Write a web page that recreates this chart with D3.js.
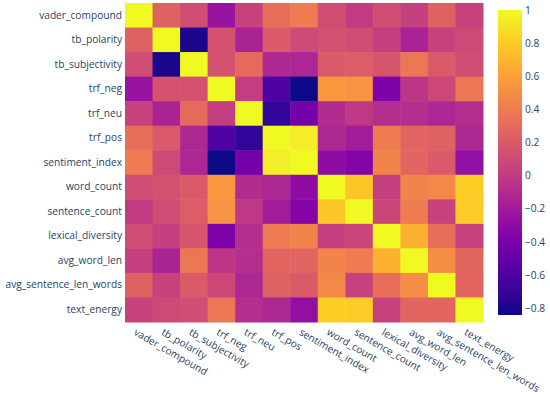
<!DOCTYPE html>
<html>
<head>
<meta charset="utf-8">
<script src="https://cdn.jsdelivr.net/npm/d3@7"></script>
<style>
  body { margin: 0; background: #fff; }
  text { font-family: "Open Sans", verdana, arial, sans-serif; fill: #2a3f5f; }
</style>
</head>
<body>
<script>
(function(){
  var width = 550;
  var height = 397;

  // features, same order on both axes
  var categories = ["vader_compound", "tb_polarity", "tb_subjectivity", "trf_neg", "trf_neu",
    "trf_pos", "sentiment_index", "word_count", "sentence_count", "lexical_diversity",
    "avg_word_len", "avg_sentence_len_words", "text_energy"];

  // correlation rows
  var rowVader     = [1, 0.25, 0.12, -0.25, 0.05, 0.33, 0.40, 0.12, 0.00, 0.12, 0.03, 0.25, 0.05];
  var rowTbPol     = [0.25, 1, -0.80, 0.15, -0.15, 0.20, 0.10, 0.14, 0.12, 0.03, -0.15, 0.05, 0.10];
  var rowTbSubj    = [0.12, -0.80, 1, 0.15, 0.30, -0.12, -0.13, 0.20, 0.22, 0.17, 0.38, 0.20, 0.12];
  var rowTrfNeg    = [-0.25, 0.15, 0.15, 1, 0.02, -0.60, -0.84, 0.55, 0.53, -0.38, -0.03, 0.08, 0.38];
  var rowTrfNeu    = [0.05, -0.15, 0.30, 0.02, 1, -0.72, -0.42, -0.10, -0.02, -0.08, -0.08, -0.13, -0.08];
  var rowTrfPos    = [0.33, 0.20, -0.12, -0.60, -0.72, 1, 0.95, -0.12, -0.20, 0.40, 0.27, 0.25, -0.12];
  var rowSentIdx   = [0.40, 0.10, -0.13, -0.84, -0.42, 0.95, 1, -0.30, -0.35, 0.45, 0.27, 0.20, -0.28];
  var rowWordCnt   = [0.12, 0.14, 0.20, 0.55, -0.10, -0.12, -0.30, 1, 0.78, 0.03, 0.45, 0.47, 0.82];
  var rowSentCnt   = [0.00, 0.12, 0.22, 0.53, -0.02, -0.20, -0.35, 0.78, 1, 0.07, 0.40, 0.05, 0.80];
  var rowLexDiv    = [0.12, 0.03, 0.17, -0.38, -0.08, 0.40, 0.45, 0.03, 0.07, 1, 0.68, 0.33, 0.04];
  var rowWordLen   = [0.03, -0.15, 0.38, -0.03, -0.08, 0.27, 0.27, 0.45, 0.40, 0.68, 1, 0.50, 0.28];
  var rowSentLen   = [0.25, 0.05, 0.20, 0.08, -0.13, 0.25, 0.20, 0.47, 0.05, 0.33, 0.50, 1, 0.27];
  var rowEnergy    = [0.05, 0.10, 0.12, 0.38, -0.08, -0.12, -0.28, 0.82, 0.80, 0.04, 0.28, 0.27, 1];

  var rows = [rowVader, rowTbPol, rowTbSubj, rowTrfNeg, rowTrfNeu, rowTrfPos, rowSentIdx,
    rowWordCnt, rowSentCnt, rowLexDiv, rowWordLen, rowSentLen, rowEnergy];

  var colorTicks = [1, 0.8, 0.6, 0.4, 0.2, 0, -0.2, -0.4, -0.6, -0.8];
  var zMin = -0.842, zMax = 1;

  var plot = { left: 125, right: 483, top: 3, bottom: 322 };
  var bar = { left: 498, right: 522, top: 10, bottom: 315 };
  var fontSize = "10.2px";

  var svg = d3.select("body").append("svg")
    .attr("width", width)
    .attr("height", height);

  var x = d3.scaleBand().domain(categories).range([plot.left, plot.right]);
  var y = d3.scaleBand().domain(categories).range([plot.top, plot.bottom]);
  var color = d3.scaleSequential(d3.interpolatePlasma).domain([zMin, zMax]);

  var cells = [];
  rows.forEach(function(r, i) {
    r.forEach(function(v, j) {
      cells.push({ row: categories[i], col: categories[j], value: v });
    });
  });

  svg.append("g").selectAll("rect")
    .data(cells)
    .enter().append("rect")
    .attr("x", d => x(d.col))
    .attr("y", d => y(d.row))
    .attr("width", x.bandwidth() + 0.5)
    .attr("height", y.bandwidth() + 0.5)
    .attr("fill", d => color(d.value));

  // y axis labels
  var yAxis = svg.append("g")
    .attr("transform", "translate(" + plot.left + ",0)")
    .call(d3.axisLeft(y).tickSize(0).tickPadding(3));
  yAxis.select(".domain").remove();
  yAxis.selectAll("text").style("font-size", fontSize).attr("fill", "#2a3f5f");

  // x axis labels, slanted
  var xAxis = svg.append("g")
    .attr("transform", "translate(0," + plot.bottom + ")")
    .call(d3.axisBottom(x).tickSize(0));
  xAxis.select(".domain").remove();
  xAxis.selectAll("text")
    .style("font-size", fontSize)
    .attr("fill", "#2a3f5f")
    .attr("x", 0).attr("y", 0)
    .attr("dy", "0.71em")
    .attr("text-anchor", "start")
    .attr("transform", "translate(-2,6) rotate(30)");

  // colour bar
  var defs = svg.append("defs");
  var grad = defs.append("linearGradient")
    .attr("id", "plasma")
    .attr("x1", 0).attr("y1", 1).attr("x2", 0).attr("y2", 0);
  d3.range(0, 1.0001, 0.05).forEach(function(t) {
    grad.append("stop")
      .attr("offset", t)
      .attr("stop-color", d3.interpolatePlasma(t));
  });

  svg.append("rect")
    .attr("x", bar.left)
    .attr("y", bar.top)
    .attr("width", bar.right - bar.left)
    .attr("height", bar.bottom - bar.top)
    .attr("fill", "url(#plasma)");

  var cScale = d3.scaleLinear().domain([zMin, zMax]).range([bar.bottom, bar.top]);
  var cAxis = svg.append("g")
    .attr("transform", "translate(" + bar.right + ",0)")
    .call(d3.axisRight(cScale).tickValues(colorTicks).tickFormat(d3.format("~g")).tickSize(0).tickPadding(3));
  cAxis.select(".domain").remove();
  cAxis.selectAll("text").style("font-size", fontSize).attr("fill", "#2a3f5f");
})();
</script>
</body>
</html>
